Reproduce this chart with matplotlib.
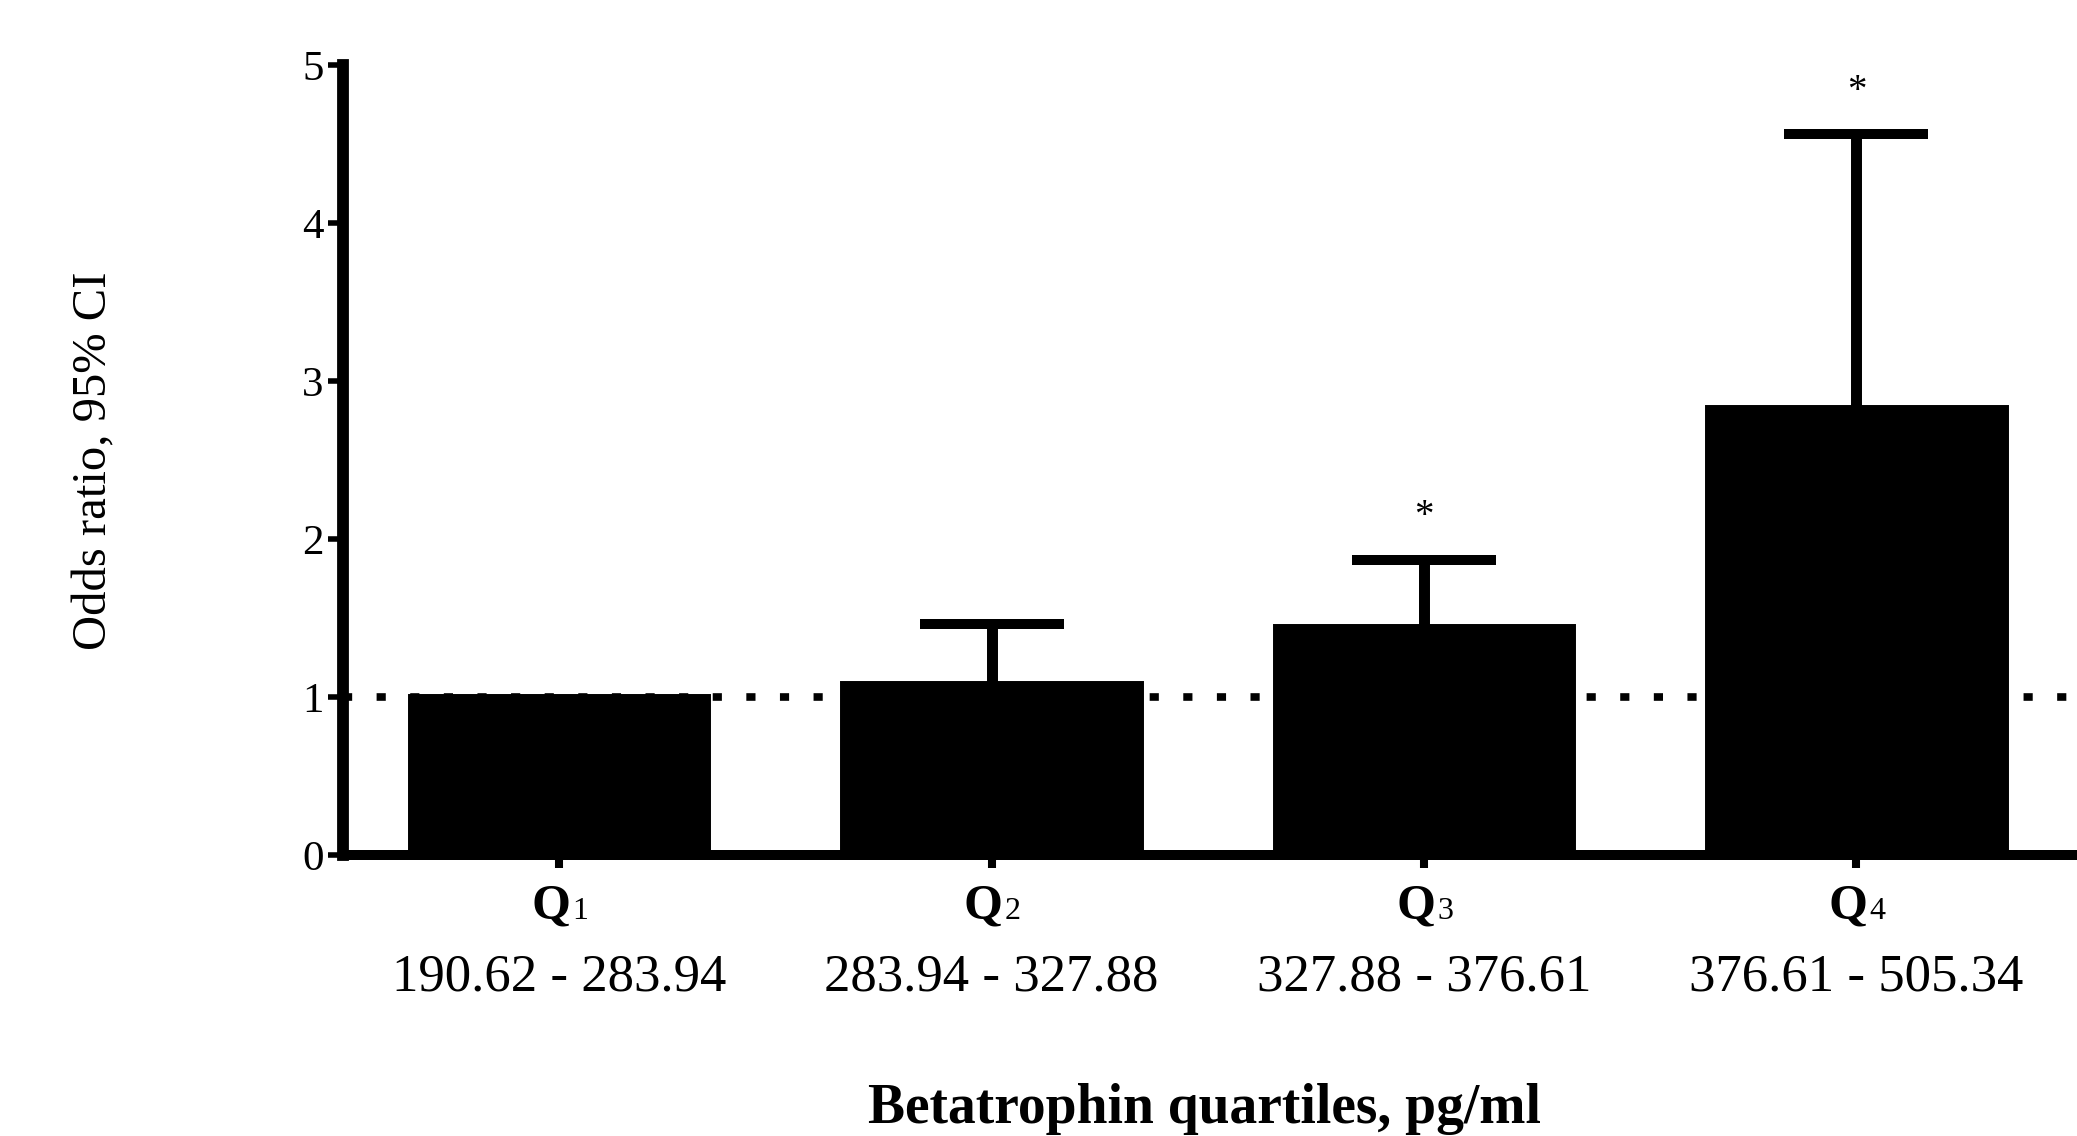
import matplotlib
matplotlib.use('Agg')
import matplotlib.pyplot as plt

# Odds ratios by betatrophin quartile (Q1 is the reference group)
quartiles = ['1', '2', '3', '4']
quartile_ranges = ['190.62 - 283.94', '283.94 - 327.88', '327.88 - 376.61', '376.61 - 505.34']
odds_ratio = [1.0, 1.085, 1.44, 2.83]
ci_upper = [1.0, 1.46, 1.87, 4.56]
significant = [False, False, True, True]

plt.rcParams['font.family'] = ['Liberation Serif', 'DejaVu Serif']

fig = plt.figure(figsize=(20.77, 11.36), dpi=100)
ax = fig.add_axes([0.1651, 0.2474, 0.8349, 0.6954])

x = list(range(len(quartiles)))

# Reference line at OR = 1, behind the bars
ax.axhline(1, color='black', lw=5.5, linestyle=(0, (1.2, 3.2)), zorder=0)

# Bars
ax.bar(x, odds_ratio, width=0.685, color='black', edgecolor='black', linewidth=5, zorder=2)

# Upper half of the 95% CI only, skipping the reference group
err_x = [i for i in x if ci_upper[i] > odds_ratio[i]]
err_y = [odds_ratio[i] for i in err_x]
err_up = [ci_upper[i] - odds_ratio[i] for i in err_x]
eb = ax.errorbar(err_x, err_y, yerr=[[0] * len(err_x), err_up], fmt='none',
                 ecolor='black', elinewidth=7.9, capsize=52, capthick=7.2, zorder=3)
# hide the lower caps sitting on the bar tops
eb[1][0].set_visible(False)

# Significance stars above the caps
for i in x:
    if significant[i]:
        ax.annotate('*', (i, ci_upper[i]), xytext=(0, 31), textcoords='offset points',
                    ha='center', va='center', fontsize=28)

# Axes styling
ax.set_xlim(-0.5, 3.51)
ax.set_ylim(0, 5)
ax.set_yticks([0, 1, 2, 3, 4, 5])
ax.set_xticks(x)
ax.set_xticklabels([])
ax.tick_params(axis='y', length=10.8, width=4, pad=3, labelsize=31)
ax.tick_params(axis='x', length=9, width=5.8)
for side in ['top', 'right']:
    ax.spines[side].set_visible(False)
ax.spines['left'].set_linewidth(8.5)
ax.spines['bottom'].set_linewidth(7.2)

# Quartile labels: bold Q with small number, then the range
trans = ax.get_xaxis_transform()
for i in x:
    ax.annotate('Q', (i, -0.081), xycoords=trans, xytext=(8.0, 0), textcoords='offset points',
                ha='right', va='baseline', fontsize=36, fontweight='bold', annotation_clip=False)
    ax.annotate(quartiles[i], (i, -0.081), xycoords=trans, xytext=(9.5, 0), textcoords='offset points',
                ha='left', va='baseline', fontsize=23, annotation_clip=False)
    ax.text(i, -0.171, quartile_ranges[i], transform=trans, ha='center', va='baseline',
            fontsize=38, clip_on=False)

fig.text(0.580, 0.0115, 'Betatrophin quartiles, pg/ml', ha='center', va='baseline',
         fontsize=40, fontweight='bold')
fig.text(0.0457, 0.594, 'Odds ratio, 95% CI', ha='center', va='center',
         rotation=90, fontsize=35)

fig.savefig('out.png', dpi=100)
